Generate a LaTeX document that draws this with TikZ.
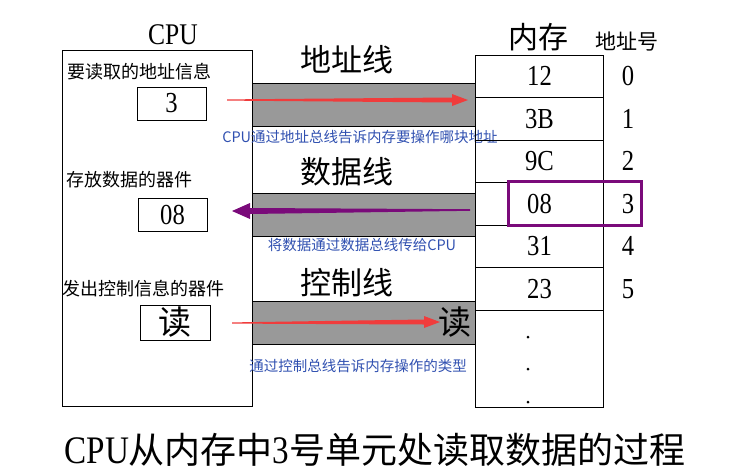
\documentclass[tikz,border=0pt]{standalone}
\usepackage{fontspec}
\setmainfont{Liberation Serif}
\newfontfamily\cjk{Noto Sans CJK SC}
\newfontfamily\cond[FakeStretch=0.85]{Liberation Serif}
\usetikzlibrary{calc}
\definecolor{busgray}{RGB}{153,153,153}
\definecolor{arrred}{RGB}{240,60,60}
\definecolor{arrpurple}{RGB}{122,10,122}
\definecolor{noteblue}{RGB}{48,80,176}
\tikzset{
  fs/.style={font=\cond\fontsize{#1}{#1}\selectfont},
  lbl/.style={inner sep=0pt, font=\cjk\fontsize{18}{18}\selectfont},
  vbox/.style={draw, line width=0.8pt, minimum width=69pt, minimum height=33pt, inner sep=0pt},
  cell/.style={draw, line width=0.8pt, minimum width=128pt, minimum height=42.5pt, inner sep=0pt, font=\cond\fontsize{29}{29}\selectfont},
  band/.style={draw, line width=0.8pt, fill=busgray, minimum width=223pt, minimum height=43pt, inner sep=0pt},
  note/.style={text=noteblue, font=\cjk\fontsize{14.5}{14.5}\selectfont, inner sep=0pt},
  busname/.style={font=\cjk\fontsize{31}{31}\selectfont, inner sep=0pt},
  addr/.style={inner sep=0pt, font=\cond\fontsize{29}{29}\selectfont},
}
\begin{document}
\begin{tikzpicture}[x=1pt,y=-1pt]
\useasboundingbox (0,0) rectangle (747,472);
% CPU
\node[draw, line width=0.8pt, minimum width=190pt, minimum height=356pt, inner sep=0pt] (cpu) at (157,228) {};
\node[inner sep=0pt, fs=30] (cpulbl) at (173,35) {CPU};
\node[lbl, anchor=west] (t1) at (67,72) {要读取的地址信息};
\node[vbox, fs=29] (b3) at (171.5,103.5) {3};
\node[lbl, anchor=west] (t2) at (66,180) {存放数据的器件};
\node[vbox, fs=29] (b08) at (172.5,215) {08};
\node[lbl, anchor=west] (t3) at (62,289) {发出控制信息的器件};
\node[vbox, minimum width=70pt, minimum height=35pt, font=\cjk\fontsize{33}{33}\selectfont] (bdu) at (175,322.5) {读};
% buses
\node[band] (abus) at (363.5,104.5) {};
\node[band] (dbus) at (363.5,215) {};
\node[band] (cbus) at (363.5,322.5) {};
\node[busname] (an) at (347,60) {地址线};
\node[busname] (dn) at (347,172) {数据线};
\node[busname] (cn) at (347,283) {控制线};
\node[note] (n1) at (360,137) {CPU通过地址总线告诉内存要操作哪块地址};
\node[note] (n2) at (362,245) {将数据通过数据总线传给CPU};
\node[note] (n3) at (358,366) {通过控制总线告诉内存操作的类型};
\node[inner sep=0pt, font=\cjk\fontsize{33}{33}\selectfont] (cdu) at (455,322) {读};
% arrows
\coordinate (a1s) at (227,100);
\coordinate (a1t) at (468,100);
\fill[arrred] ([yshift=0.6pt]a1s) -- ([xshift=-16pt,yshift=2.5pt]a1t) -- ([xshift=-16pt,yshift=6pt]a1t) -- (a1t)
  -- ([xshift=-16pt,yshift=-6pt]a1t) -- ([xshift=-16pt,yshift=-2.5pt]a1t) -- ([yshift=-0.6pt]a1s) -- cycle;
\coordinate (a2s) at (470,210);
\coordinate (a2t) at (232,211);
\fill[arrpurple] ([yshift=0.8pt]a2s) -- ([xshift=18pt,yshift=3pt]a2t) -- ([xshift=18pt,yshift=8pt]a2t) -- (a2t)
  -- ([xshift=18pt,yshift=-8pt]a2t) -- ([xshift=18pt,yshift=-3pt]a2t) -- ([yshift=-0.8pt]a2s) -- cycle;
\coordinate (a3s) at (232,323);
\coordinate (a3t) at (440,322);
\fill[arrred] ([yshift=0.6pt]a3s) -- ([xshift=-16pt,yshift=2.5pt]a3t) -- ([xshift=-16pt,yshift=6pt]a3t) -- (a3t)
  -- ([xshift=-16pt,yshift=-6pt]a3t) -- ([xshift=-16pt,yshift=-2.5pt]a3t) -- ([yshift=-0.6pt]a3s) -- cycle;
% memory
\node[inner sep=0pt, font=\cjk\fontsize{30}{30}\selectfont] (memlbl) at (538,37) {内存};
\node[inner sep=0pt, font=\cjk\fontsize{21}{21}\selectfont] (addrlbl) at (627,42) {地址号};
\node[cell] (m0) at (539.5,76.25) {12};
\node[cell] (m1) at (539.5,118.75) {3B};
\node[cell] (m2) at (539.5,161.25) {9C};
\node[cell] (m3) at (539.5,203.75) {08};
\node[cell] (m4) at (539.5,246.25) {31};
\node[cell] (m5) at (539.5,288.75) {23};
\node[draw, line width=0.8pt, minimum width=128pt, minimum height=97pt, inner sep=0pt] (mrest) at (539.5,358.5) {};
\fill (528,337) circle (1.5pt) (528,369) circle (1.5pt) (528,402) circle (1.5pt);
\node[addr] (d0) at (628,76.25) {0};
\node[addr] (d1) at (628,118.75) {1};
\node[addr] (d2) at (628,161.25) {2};
\node[addr] (d3) at (628,203.75) {3};
\node[addr] (d4) at (628,246.25) {4};
\node[addr] (d5) at (628,288.75) {5};
\draw[arrpurple, line width=3pt] (508,181) rectangle (641,225);
% title
\node[inner sep=0pt, font=\cjk\fontsize{36}{36}\selectfont] (title) at (375,450) {{\cond\fontsize{39}{39}\selectfont CPU}从内存中{\cond\fontsize{39}{39}\selectfont 3}号单元处读取数据的过程};
\end{tikzpicture}
\end{document}
